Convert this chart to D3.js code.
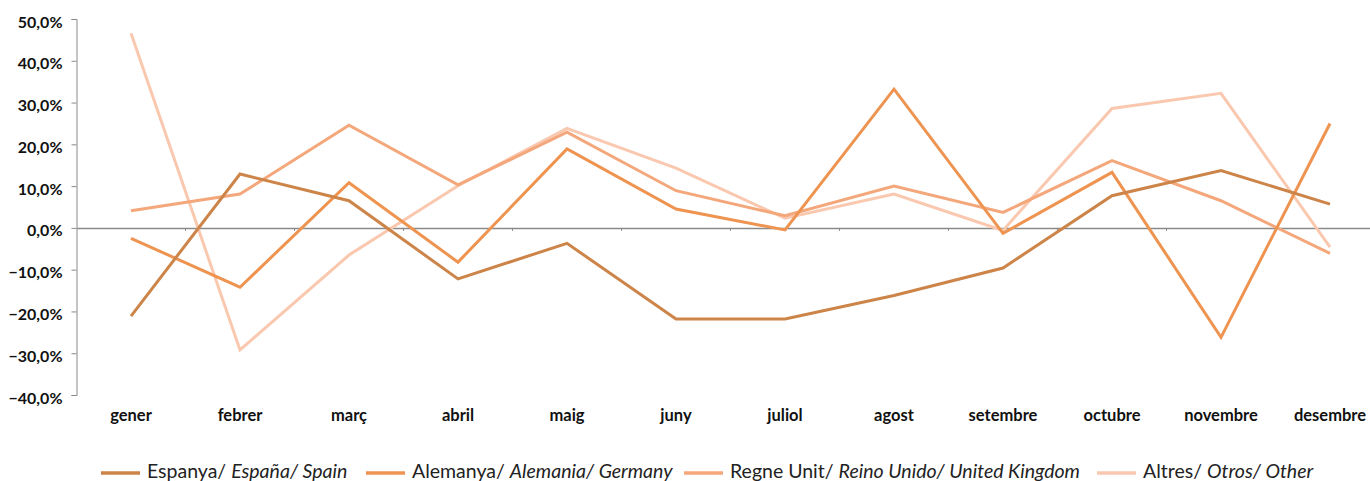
<!DOCTYPE html>
<html><head><meta charset="utf-8">
<script src="https://cdn.jsdelivr.net/npm/d3@7"></script>
<style>body{margin:0;background:#fff;overflow:hidden}</style>
</head><body><svg id="c" width="1370" height="481"></svg>
<script>
const months = ["gener","febrer","març","abril","maig","juny","juliol","agost","setembre","octubre","novembre","desembre"];
const spain   = [-21.1, 12.9, 6.5, -12.2, -3.7, -21.8, -21.8, -16.2, -9.6, 7.7, 13.7, 5.7];
const germany = [-2.5, -14.2, 10.8, -8.2, 18.9, 4.5, -0.5, 33.2, -1.3, 13.3, -26.2, 25.0];
const uk      = [4.1, 8.1, 24.6, 10.3, 22.9, 8.9, 2.9, 10.0, 3.7, 16.1, 6.5, -6.1];
const other   = [46.6, -29.2, -6.5, 10.1, 23.8, 14.3, 2.3, 8.1, -0.6, 28.6, 32.2, -4.6];
const yTicks = [-40,-30,-20,-10,0,10,20,30,40,50];
const seriesNames = [
  ["Espanya/ ","España/ Spain"],
  ["Alemanya/ ","Alemania/ Germany"],
  ["Regne Unit/ ","Reino Unido/ United Kingdom"],
  ["Altres/ ","Otros/ Other"]
];
const colors = ["#CD8449","#EE9450","#F4A77B","#F9C8AF"];
const series = [spain, germany, uk, other];

const svg = d3.select("#c");
const x = d3.scaleBand().domain(months).range([76.5, 1384.5]);
const y = d3.scaleLinear().domain([-40, 50]).range([395, 19]);
const fmt = v => d3.format(".1f")(v).replace(".", ",") + "%";
const axisColor = "#8a8a8a";
const font = "Lato, 'DejaVu Sans', sans-serif";

// y axis
const ya = svg.append("g").attr("transform","translate(76.5,0)")
  .call(d3.axisLeft(y).tickValues(yTicks).tickFormat(fmt).tickSize(5).tickPadding(9));
ya.select(".domain").attr("stroke", axisColor).attr("stroke-width",1);
ya.selectAll(".tick line").attr("stroke", axisColor);
ya.selectAll("text").attr("fill","#111").attr("dy","0.5em").style("font-family",font)
  .style("font-weight","bold").style("font-size","16px");

// x axis at zero
const xa = svg.append("g").attr("transform",`translate(0,${y(0)})`)
  .call(d3.axisBottom(x).tickSize(0).tickFormat(""));
xa.select(".domain").attr("stroke", axisColor).attr("stroke-width",1.5);
const bounds = months.slice(1).map(m => x(m));
svg.append("g").selectAll("line").data(bounds).join("line")
  .attr("x1", d=>d).attr("x2", d=>d).attr("y1", y(0)).attr("y2", y(0)+3)
  .attr("stroke", axisColor).attr("stroke-width",1);

// x labels
svg.append("g").selectAll("text").data(months).join("text")
  .attr("x", d => x(d) + x.bandwidth()/2).attr("y", 421)
  .attr("text-anchor","middle").attr("fill","#111")
  .style("font-family",font).style("font-weight","bold").style("font-size","16.5px")
  .text(d=>d);

// lines
const line = d3.line().x((d,i)=>x(months[i]) + x.bandwidth()/2).y(d=>y(d));
const order = [3,2,1,0];
svg.append("g").selectAll("path").data(order).join("path")
  .attr("d", i => line(series[i])).attr("fill","none")
  .attr("stroke", i => colors[i]).attr("stroke-width",3).attr("stroke-linejoin","miter");

// legend
const legX = [101, 366, 684, 1097];
const lg = svg.append("g");
seriesNames.forEach((n,i)=>{
  lg.append("line").attr("x1",legX[i]).attr("x2",legX[i]+39).attr("y1",473).attr("y2",473)
    .attr("stroke",colors[i]).attr("stroke-width",3.5);
  const t = lg.append("text").attr("x",legX[i]+46).attr("y",478).attr("fill","#222")
    .style("font-family",font).style("font-size","19.5px");
  t.append("tspan").text(n[0]);
  t.append("tspan").style("font-style","italic").text(n[1]);
});
</script></body></html>
